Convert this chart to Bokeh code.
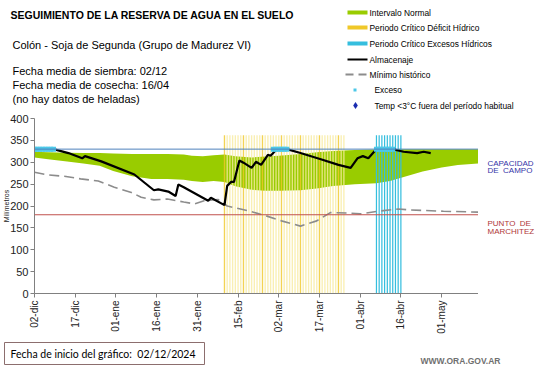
import math
from bokeh.plotting import figure
from bokeh.layouts import column, row
from bokeh.models import Range1d, FixedTicker, Span
from bokeh.core.properties import value
from bokeh.embed import file_html
from bokeh.resources import INLINE

# ---------------- data (day 0 = 02/12/2024) ----------------
tick_dias = [0, 15, 30, 45, 60, 75, 90, 105, 120, 135, 150]
tick_etiquetas = ["02-dic", "17-dic", "01-ene", "16-ene", "31-ene", "15-feb",
                  "02-mar", "17-mar", "01-abr", "16-abr", "01-may"]
dia_final = 163.6

capacidad_campo = 330
punto_marchitez = 180

banda_dias = [0, 5, 12, 18, 24, 29, 36, 43, 49, 55, 58, 62, 66, 70, 74, 80, 85, 90,
              98, 104, 110, 118, 126, 131, 137, 143, 150, 156, 163.6]
banda_sup = [324, 323, 322, 321, 321, 320, 319, 319, 319, 318, 315, 314, 316, 318, 314, 311, 313, 315,
             319, 323, 326, 328, 329, 330, 330, 330, 330, 330, 330]
banda_inf = [311, 307, 302, 297, 292, 280, 268, 262, 262, 260, 257, 255, 257, 255, 245, 237, 235, 235,
             236, 240, 246, 250, 252, 257, 268, 279, 288, 294, 297]

alm_dias = [0, 7, 12.5, 17.6, 18.6, 24.6, 36.8, 44, 45.6, 49.3, 52, 53, 55, 64, 65, 70, 71, 72.4, 73.5,
            75.5, 77, 80, 81.6, 83.5, 86, 87, 89, 90, 93, 98, 105.5, 112, 116.5, 119, 121, 123,
            125.7, 127, 132, 136, 141, 143.4, 146]
alm_valores = [330, 330, 321, 309, 314, 302, 272, 236, 238, 233, 223, 249, 243, 212, 219, 202, 246, 255, 255,
               304, 299, 287, 301, 294, 317, 315, 328, 330, 330, 321, 307, 294, 287, 309, 314, 309,
               328, 330, 330, 324, 321, 324, 321]

min_dias = [0, 5, 11, 17, 23.5, 29.4, 35.7, 39.3, 44, 49, 55, 59, 62.5, 67.6, 71, 78.7, 84.6, 91,
            98, 104, 109, 115, 120, 126.5, 134, 138.6, 150.7, 163.6]
min_valores = [277, 271, 268, 262, 257, 243, 231, 220, 214, 216, 209, 205, 212, 215, 200, 189, 179, 166,
               154, 166, 185, 184, 182, 188, 193, 191, 188, 186]

exceso_dias = [0, 1, 2, 3, 4, 5, 6, 7, 88, 89, 90, 91, 92, 93, 126, 127, 128, 129, 130, 131, 132]

deficit_dias = list(range(70, 115))
deficit_fuerte = [70, 77, 84, 91, 98, 105, 112]
excesos_dias_criticos = list(range(126, 136))
altura_periodo = 362

FONT = "Liberation Sans"
VERDE = "#99cc00"
AMARILLO = "#f0c828"
AMARILLO_CLARO = "#f8eba0"
CELESTE = "#35bede"
EXC = "#4cc8e8"
GRIS = "#8c8c8c"
NB = "\u00a0"


def blank(w, h):
    f = figure(width=w, height=h, output_backend="svg", toolbar_location=None,
               x_range=Range1d(0, w), y_range=Range1d(h, 0),
               min_border_left=0, min_border_right=0, min_border_top=0, min_border_bottom=0)
    f.axis.visible = False
    f.grid.visible = False
    f.outline_line_color = None
    return f


def txt(f, x, y, s, size="11px", color="#000000", bold=False, align="left", font=FONT):
    f.text(x=[x], y=[y], text=[s], text_font=value(font), text_font_size=size,
           text_color=color, text_font_style="bold" if bold else "normal",
           text_align=align, text_baseline="middle")


def rect(f, x0, y0, x1, y1, color):
    f.quad(left=[x0], right=[x1], top=[y0], bottom=[y1], fill_color=color, line_color=None)


# ---------------- header (page y 0..112) ----------------
hdr = blank(541, 112)
txt(hdr, 10, 14, "SEGUIMIENTO DE LA RESERVA DE AGUA EN EL SUELO", size="10.5px", bold=True)
txt(hdr, 12, 44, "Colón - Soja de Segunda (Grupo de Madurez VI)")
txt(hdr, 12, 70, "Fecha media de siembra: 02/12")
txt(hdr, 12, 84, "Fecha media de cosecha: 16/04")
txt(hdr, 12, 98, "(no hay datos de heladas)")

LX0, LX1, TX, LFS = 347, 367, 369, "8.4px"
rect(hdr, LX0, 10, LX1, 14, VERDE)
txt(hdr, TX, 12, "Intervalo Normal", size=LFS)
rect(hdr, LX0, 25, LX1, 29, AMARILLO)
txt(hdr, TX, 27, "Periodo Crítico Déficit Hídrico", size=LFS)
rect(hdr, LX0, 41, LX1, 45, CELESTE)
txt(hdr, TX, 43, "Periodo Crítico Excesos Hídricos", size=LFS)
rect(hdr, LX0, 58, LX1, 60, "#000000")
txt(hdr, TX, 59, "Almacenaje", size=LFS)
rect(hdr, 345, 73, 353, 75, GRIS)
rect(hdr, 358, 73, 366, 75, GRIS)
txt(hdr, TX, 74, "Mínimo histórico", size=LFS)
rect(hdr, 353, 88, 356, 91, EXC)
txt(hdr, 374, 89, "Exceso", size=LFS)
hdr.scatter(x=[355], y=[105], marker="diamond", size=7, fill_color="#1a2db0", line_color=None)
txt(hdr, 374, 105, "Temp <3°C fuera del período habitual", size=LFS)

# ---------------- main chart (page y 112..336, x 0..478) ----------------
FL, FT, FB = 33, 6, 40
p = figure(width=FL + 445, height=FT + 178 + FB, output_backend="svg", toolbar_location=None,
           x_range=Range1d(0, dia_final), y_range=Range1d(0, 400),
           min_border_left=FL, min_border_right=0, min_border_top=FT, min_border_bottom=FB)
p.outline_line_color = None
p.xgrid.visible = False
p.ygrid.visible = False

p.yaxis.ticker = FixedTicker(ticks=list(range(0, 401, 50)))
p.yaxis.major_label_text_font = FONT
p.yaxis.major_label_text_font_size = "11px"
p.yaxis.major_label_text_color = "#222222"
p.yaxis.axis_line_color = "#808080"
p.yaxis.major_tick_line_color = "#808080"
p.yaxis.major_tick_in = 0
p.yaxis.major_tick_out = 4
p.yaxis.minor_tick_line_color = None
p.yaxis.major_label_standoff = 2
p.yaxis.axis_label = "Milímetros"
p.yaxis.axis_label_text_font = FONT
p.yaxis.axis_label_text_font_size = "7px"
p.yaxis.axis_label_text_font_style = "normal"
p.yaxis.axis_label_text_color = "#222222"
p.yaxis.axis_label_standoff = -3

p.xaxis.ticker = FixedTicker(ticks=tick_dias)
p.xaxis.major_label_overrides = {d: t for d, t in zip(tick_dias, tick_etiquetas)}
p.xaxis.major_label_orientation = math.pi / 2
p.xaxis.major_label_text_font = FONT
p.xaxis.major_label_text_font_size = "10px"
p.xaxis.major_label_text_color = "#222222"
p.xaxis.axis_line_color = "#808080"
p.xaxis.major_tick_line_color = "#808080"
p.xaxis.major_tick_in = 0
p.xaxis.major_tick_out = 4
p.xaxis.minor_tick_line_color = None
p.xaxis.major_label_standoff = 3

p.varea(x=banda_dias, y1=banda_inf, y2=banda_sup, fill_color=VERDE)

def_col = [AMARILLO if d in deficit_fuerte else AMARILLO_CLARO for d in deficit_dias]
p.vbar(x=deficit_dias, top=[altura_periodo] * len(deficit_dias), bottom=0, width=0.5,
       fill_color=def_col, line_color=None, fill_alpha=0.8)
p.vbar(x=excesos_dias_criticos, top=[altura_periodo] * len(excesos_dias_criticos), bottom=0, width=0.45,
       fill_color=CELESTE, line_color=None)

p.add_layout(Span(location=capacidad_campo, dimension="width", line_color="#4f81bd", line_width=1))
p.add_layout(Span(location=punto_marchitez, dimension="width", line_color="#c0504d", line_width=1))

p.line(min_dias, min_valores, line_color=GRIS, line_width=1.6, line_dash="10 5")
p.line(alm_dias, alm_valores, line_color="black", line_width=2.2)
p.scatter(exceso_dias, [capacidad_campo] * len(exceso_dias), marker="square", size=5,
          fill_color=EXC, line_color=None)

# ---------------- right side (page x 478..541) ----------------
RX0, RY0 = 478, 112
rgt = blank(63, FT + 178 + FB)
txt(rgt, 487 - RX0, 169 - RY0, "CAPACIDAD", size="8px", color="#3535a8")
txt(rgt, 487 - RX0, 179 - RY0, "DE" + NB + " CAMPO", size="8px", color="#3535a8")
txt(rgt, 487 - RX0, 246 - RY0, "PUNTO" + NB + " DE", size="8px", color="#b03838")
txt(rgt, 487 - RX0, 256 - RY0, "MARCHITEZ", size="8px", color="#b03838")

# ---------------- footer (page y 336..368) ----------------
FY0 = 336
ftr = blank(541, 32)
ftr.quad(left=[4], right=[204], top=[342 - FY0], bottom=[364 - FY0],
         fill_color=None, line_color="#8c6e6e", line_width=1)
txt(ftr, 10, 353 - FY0, "Fecha de inicio del gráfico:" + NB + " 02/12/2024", size="10.5px", font="Lato")
txt(ftr, 500, 360 - FY0, "WWW.ORA.GOV.AR", size="8.5px", color="#707070", bold=True, align="right")

layout = column(hdr, row(p, rgt), ftr)
open("out.html", "w").write(file_html(layout, INLINE))
